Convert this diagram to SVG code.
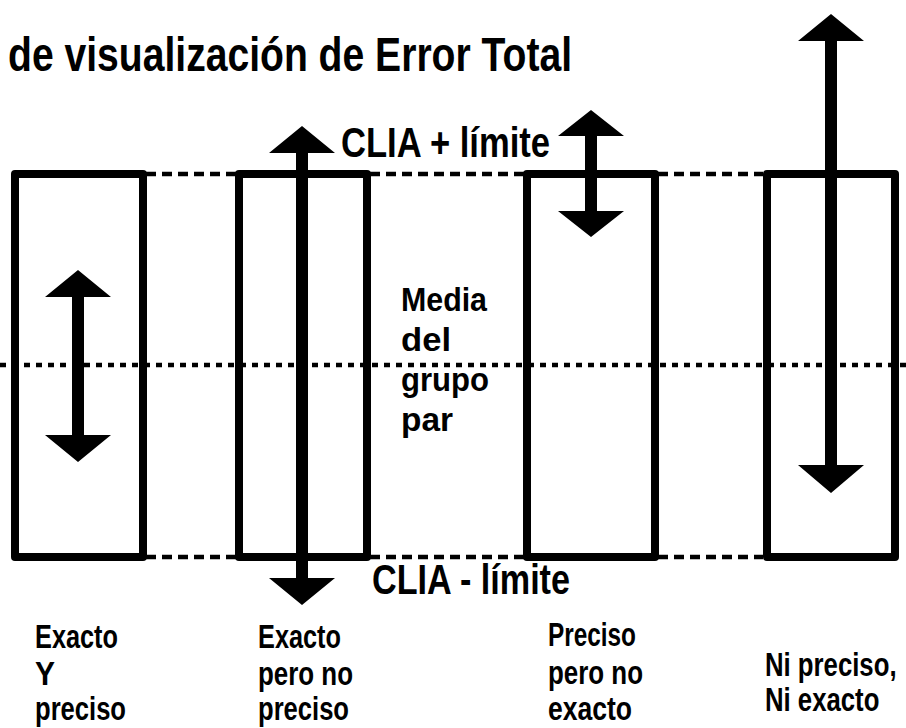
<svg xmlns="http://www.w3.org/2000/svg" width="906" height="728" viewBox="0 0 906 728">
<style>
  .t { font-family: "Liberation Sans", Arial, sans-serif; font-weight: bold; fill: #000; }
  .box { fill: none; stroke: #000; stroke-width: 8; stroke-linejoin: round; }
  .dash { stroke: #000; stroke-width: 4.5; stroke-dasharray: 10 6; fill: none; }
  .dot { stroke: #000; stroke-width: 4.5; stroke-dasharray: 6 6; fill: none; }
  .arr { fill: #000; stroke: none; }
</style>
<rect width="906" height="728" fill="#fff"/>
<text class="t" x="8" y="71" font-size="49" textLength="564" lengthAdjust="spacingAndGlyphs">de visualización de Error Total</text>
<g id="connectors">
  <line class="dash" x1="146" y1="174" x2="763" y2="174"/>
  <line class="dash" x1="146" y1="557" x2="763" y2="557"/>
  <line class="dot" x1="0" y1="365" x2="906" y2="365"/>
</g>
<g id="box1">
  <rect class="box" x="15" y="174" width="128" height="383"/>
  <path class="arr" d="M78,270 L111,297 L84,297 L84,435 L111,435 L78,462 L45,435 L72,435 L72,297 L45,297 Z"/>
  <text class="t" font-size="33"><tspan x="35" y="648" textLength="83" lengthAdjust="spacingAndGlyphs">Exacto</tspan><tspan x="35" y="685" textLength="20" lengthAdjust="spacingAndGlyphs">Y</tspan><tspan x="35" y="720" textLength="91" lengthAdjust="spacingAndGlyphs">preciso</tspan></text>
</g>
<g id="box2">
  <rect class="box" x="239" y="174" width="128" height="383"/>
  <path class="arr" d="M302,126 L335,153 L308,153 L308,578 L335,578 L302,605 L269,578 L296,578 L296,153 L269,153 Z"/>
  <text class="t" font-size="33"><tspan x="258" y="648" textLength="83" lengthAdjust="spacingAndGlyphs">Exacto</tspan><tspan x="258" y="685" textLength="95" lengthAdjust="spacingAndGlyphs">pero no</tspan><tspan x="258" y="720" textLength="91" lengthAdjust="spacingAndGlyphs">preciso</tspan></text>
</g>
<g id="box3">
  <rect class="box" x="527" y="174" width="128" height="383"/>
  <path class="arr" d="M591,110 L624,136 L597,136 L597,211 L624,211 L591,237 L558,211 L585,211 L585,136 L558,136 Z"/>
  <text class="t" font-size="33"><tspan x="548" y="646" textLength="88" lengthAdjust="spacingAndGlyphs">Preciso</tspan><tspan x="548" y="684" textLength="95" lengthAdjust="spacingAndGlyphs">pero no</tspan><tspan x="548" y="720" textLength="84" lengthAdjust="spacingAndGlyphs">exacto</tspan></text>
</g>
<g id="box4">
  <rect class="box" x="767" y="174" width="128" height="383"/>
  <path class="arr" d="M831,14 L864,41 L837,41 L837,465 L864,465 L831,493 L798,465 L825,465 L825,41 L798,41 Z"/>
  <text class="t" font-size="33" transform="translate(765,0) scale(0.78,1)"><tspan x="0" y="676">Ni preciso,</tspan><tspan x="0" y="711">Ni exacto</tspan></text>
</g>
<g id="clia-plus">
  <text class="t" x="341" y="157" font-size="42" textLength="209" lengthAdjust="spacingAndGlyphs">CLIA + límite</text>
</g>
<g id="clia-minus">
  <text class="t" x="372" y="594" font-size="42" textLength="198" lengthAdjust="spacingAndGlyphs">CLIA - límite</text>
</g>
<g id="media">
  <text class="t" font-size="33"><tspan x="401" y="311" textLength="86" lengthAdjust="spacingAndGlyphs">Media</tspan><tspan x="401" y="351" textLength="50" lengthAdjust="spacingAndGlyphs">del</tspan><tspan x="401" y="391" textLength="88" lengthAdjust="spacingAndGlyphs">grupo</tspan><tspan x="401" y="431" textLength="52" lengthAdjust="spacingAndGlyphs">par</tspan></text>
</g>
</svg>
